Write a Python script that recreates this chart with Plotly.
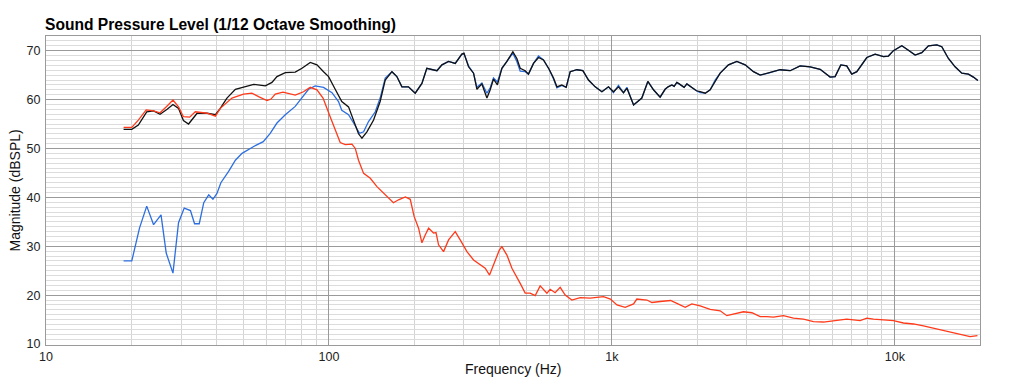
import plotly.graph_objects as go
import math

# ---- Data ----
black_freq = [18.8, 20.1, 21.2, 22.7, 24.0, 25.3, 26.8, 28.1, 29.4, 30.6, 31.9, 34.2, 37.1, 39.7, 41.3,
              43.6, 46.7, 49.9, 54.2, 59.6, 62.9, 65.5, 70.1, 76.0, 80.3, 85.9, 90.7, 95.7, 99.7, 105,
              111, 117.3, 122.2, 127.2, 130.8, 136.2, 143.8, 151.7, 158.1, 167, 173.8, 181.1, 191,
              201.8, 213.1, 221.8, 240.8, 250.8, 264.7, 279.5, 295, 300, 311.4, 324.4, 333.4, 347.2,
              361.7, 371.5, 381.6, 394, 408.6, 425.6, 446.7, 461.4, 474.2, 493.9, 507.2, 528.4, 550.4,
              573.1, 600, 621.9, 639.3, 665.3, 689.4, 712.3, 752, 789.6, 826.7, 873, 922, 972.8,
              1013, 1055, 1099, 1130, 1193, 1276, 1340, 1403, 1481, 1542, 1580, 1629, 1660, 1697,
              1730, 1768, 1800, 1841, 1880, 1942, 1990, 2051, 2138, 2225, 2317, 2414, 2582, 2765,
              2958, 3165, 3342, 3576, 3933, 4266, 4628, 5020, 5445, 5907, 6151, 6443, 6761, 7043,
              7340, 7962, 8520, 9114, 9493, 9885, 10585, 11170, 11797, 12456, 13145, 14075, 14657,
              15466, 16330, 17248, 18197, 18957, 19653]
black_db = [53.9, 53.9, 54.8, 57.5, 57.7, 57.0, 58.0, 59.0, 58.2, 55.7, 55.0, 57.2, 57.2, 56.9, 58.2,
            60.3, 62.1, 62.6, 63.1, 62.8, 63.5, 64.7, 65.5, 65.6, 66.4, 67.6, 67.1, 65.7, 64.7, 62.2,
            59.6, 58.5, 55.8, 53.0, 52.1, 53.4, 55.8, 59.6, 64.0, 65.7, 64.7, 62.6, 62.6,
            61.3, 63.3, 66.4, 65.9, 67.1, 67.8, 67.4, 69.3, 69.5, 66.7, 65.4, 62.1, 63.2,
            60.3, 62.0, 64.2, 63.0, 66.4, 67.8, 69.8, 68.4, 66.4, 65.9, 65.2, 67.4, 68.6,
            68.1, 66.2, 64.4, 62.6, 63.0, 62.5, 65.7, 66.1, 65.9, 64.0, 62.6, 61.6, 62.6,
            61.6, 62.6, 61.4, 62.3, 58.9, 60.3, 63.7, 62.0, 60.5, 62.1, 62.6, 63.0, 62.7, 63.5,
            63.2, 62.8, 62.5, 63.2, 62.8, 62.1, 61.8, 61.6, 61.3, 62.0, 63.7, 65.4, 67.1, 67.8,
            67.1, 65.7, 65.0, 65.4, 66.1, 65.9, 66.9, 66.7, 66.2, 64.6, 64.7, 67.1, 66.9, 65.2,
            65.7, 68.6, 69.3, 68.8, 68.9, 70.0, 71.0, 70.1, 69.1, 69.6, 71.0, 71.2, 70.8,
            68.4, 66.7, 65.4, 65.2, 64.6, 63.9]

blue_freq = [18.8, 20.1, 21.4, 22.7, 24.0, 25.5, 26.6, 28.1, 29.4, 30.8, 32.4, 33.5, 34.8, 36.1, 37.6,
             38.9, 40.2, 41.5, 44.2, 46.7, 49.3, 52.0, 54.2, 58.6, 62.0, 65.5, 70.1, 76.0, 80.3, 84.7,
             89.4, 95.7, 102.5, 108.1, 111, 117.3, 122.2, 128.3, 132.6, 138, 145.8, 151.7, 158.1, 167,
             173.8, 181.1, 191, 201.8, 213.1, 221.8, 240.8, 250.8, 264.7, 279.5, 295, 300, 311.4,
             324.4, 333.4, 347.2, 361.7, 371.5, 381.6, 394, 408.6, 425.6, 446.7, 461.4, 474.2, 493.9,
             507.2, 528.4, 550.4, 573.1, 600, 621.9, 639.3, 665.3, 689.4, 712.3, 752, 789.6, 826.7,
             873, 922, 972.8, 1013, 1055, 1099, 1130, 1193, 1276, 1340, 1403, 1481, 1542, 1580, 1629,
             1660, 1697, 1730, 1768, 1800, 1841, 1880, 1942, 1990, 2051, 2138, 2225, 2317, 2414, 2582,
             2765, 2958, 3165, 3342, 3576, 3933, 4266, 4628, 5020, 5445, 5907, 6151, 6443, 6761,
             7043, 7340, 7962, 8520, 9114, 9493, 9885, 10585, 11170, 11797, 12456, 13145, 14075,
             14657, 15466, 16330, 17248, 18197, 18957, 19653]
blue_db = [27.0, 27.0, 33.7, 38.2, 34.4, 36.4, 28.6, 24.5, 34.8, 37.8, 37.3, 34.6, 34.6, 38.9, 40.5,
           39.6, 40.8, 43.0, 45.3, 47.6, 49.0, 49.8, 50.4, 51.4, 53.1, 55.2, 56.9, 58.6, 60.3, 62.1,
           62.8, 62.5, 61.4, 59.6, 57.8, 56.9, 55.2, 53.1, 53.4, 55.5, 57.5, 60.3, 64.4, 65.7,
           64.7, 62.6, 62.6, 61.3, 63.3, 66.4, 65.9, 67.1, 67.8, 67.4, 69.3, 69.4, 66.9,
           65.4, 62.5, 63.4, 61.3, 62.4, 64.4, 63.6, 66.4, 67.8, 69.5, 67.8, 65.8, 65.7,
           65.2, 67.4, 68.9, 68.1, 66.2, 64.2, 62.4, 62.9, 62.5, 65.7, 66.1, 65.9, 64.0,
           62.6, 61.6, 62.6, 61.4, 62.9, 61.4, 62.5, 58.9, 60.3, 63.7, 62.0, 60.5, 62.1, 62.6, 63.0,
           62.7, 63.5, 63.2, 62.8, 62.5, 63.2, 62.8, 62.1, 61.8, 61.4, 61.3, 62.0, 64.0, 65.4, 67.1,
           67.8, 67.1, 65.7, 65.0, 65.4, 66.1, 65.9, 66.9, 66.7, 66.2, 64.6, 64.7, 67.1, 66.9,
           65.2, 65.7, 68.6, 69.3, 68.8, 68.9, 70.0, 71.0, 70.1, 69.1, 69.6, 71.0, 71.2,
           70.8, 68.4, 66.7, 65.4, 65.2, 64.6, 63.9]

red_freq = [18.8, 20.1, 21.2, 22.6, 24.0, 25.3, 26.8, 28.1, 29.4, 30.6, 32.2, 33.7, 37.1, 39.7, 41.3,
            45.4, 49.9, 53.4, 56.4, 60.4, 62.4, 64.6, 68.8, 76.0, 81.3, 85.9, 90.7, 95.3, 101, 105,
            109.6, 114.2, 120.6, 123.9, 127.2, 132.6, 140, 147.8, 153.9, 160.3, 169, 176.2, 186.2,
            193.8, 200, 207.4, 213.1, 218.9, 225, 234.2, 239, 244, 254.1, 264.7, 279.5, 291, 307.4,
            324.4, 342.4, 356.6, 369.5, 381.6, 400, 408.6, 425.6, 443.3, 461.4, 474.2, 493.9, 514.3,
            535.8, 557.9, 589.3, 605.3, 630, 656.6, 684, 722, 773, 838, 934, 988, 1042, 1114, 1193,
            1225, 1330, 1385, 1481, 1612, 1697, 1816, 1917, 2051, 2225, 2414, 2549, 2727, 2917,
            3124, 3342, 3529, 3724, 4040, 4383, 4754, 5157, 5595, 6067, 6761, 7539, 7962, 8403,
            9114, 9885, 10725, 11636, 12620, 13690, 14850, 16107, 17477, 18450, 19590]
red_db = [54.3, 54.3, 55.8, 57.9, 57.7, 57.3, 58.7, 59.9, 58.5, 56.5, 56.4, 57.5, 57.2, 56.6, 58.2,
          60.3, 61.1, 61.3, 60.6, 59.8, 60.1, 61.1, 61.5, 60.9, 61.6, 62.5, 62.0, 60.3, 56.5, 54.0,
          51.2, 50.8, 50.9, 50.0, 47.6, 44.9, 43.9, 42.2, 41.2, 40.1, 38.9, 39.5, 40.1,
          39.6, 36.1, 33.7, 30.7, 32.3, 33.7, 32.7, 32.8, 30.3, 28.9, 31.3, 33.0, 31.3, 28.9,
          27.2, 26.2, 25.5, 24.1, 26.2, 29.2, 29.9, 28.2, 25.5, 23.8, 22.4, 20.4, 20.4,
          19.9, 21.9, 20.4, 21.2, 20.5, 21.6, 20.0, 19.0, 19.5, 19.4, 19.7, 19.2, 18.0, 17.5, 18.2,
          19.2, 19.0, 18.5, 18.7, 18.9, 18.3, 17.5, 18.2, 17.8, 17.1, 16.8, 15.8, 16.2, 16.6,
          16.4, 15.6, 15.6, 15.5, 15.8, 15.3, 15.1, 14.6, 14.5, 14.8, 15.1, 14.8, 15.3, 15.1,
          14.9, 14.8, 14.3, 14.1, 13.7, 13.2, 12.7, 12.3, 11.7, 11.5, 11.7]

x_tick_vals = [10, 100, 1000, 10000]
x_tick_text = ["10", "100", "1k", "10k"]
y_tick_vals = [10, 20, 30, 40, 50, 60, 70]

FONT = "Liberation Sans, Arial, Helvetica, sans-serif"

fig = go.Figure()
fig.add_trace(go.Scatter(x=blue_freq, y=blue_db, mode="lines",
                         line=dict(color="#2c6ee0", width=1.3), showlegend=False))
fig.add_trace(go.Scatter(x=black_freq, y=black_db, mode="lines",
                         line=dict(color="#111111", width=1.3), showlegend=False))
fig.add_trace(go.Scatter(x=red_freq, y=red_db, mode="lines",
                         line=dict(color="#ff3a1a", width=1.3), showlegend=False))

fig.update_layout(
    width=1011, height=385,
    margin=dict(l=46, r=31, t=36, b=40, autoexpand=False),
    paper_bgcolor="white", plot_bgcolor="white",
    font=dict(family=FONT, size=12, color="#222"),
    title=dict(text="<b>Sound Pressure Level (1/12 Octave Smoothing)</b>",
               x=45 / 1011, xanchor="left", xref="container",
               y=1 - 25 / 385, yanchor="middle", yref="container",
               font=dict(family=FONT, size=15.6, color="#000")),
    xaxis=dict(type="log", range=[1, math.log10(20000)], automargin=False,
               tickvals=x_tick_vals, ticktext=x_tick_text,
               showgrid=True, gridcolor="#9a9a9a", gridwidth=1,
               minor=dict(dtick="D1", showgrid=True, gridcolor="#d4d4d4", gridwidth=1),
               showline=True, linecolor="#9a9a9a", linewidth=1, mirror=True,
               ticks="", tickfont=dict(size=12.5, color="#222"), zeroline=False),
    yaxis=dict(range=[9.8, 73], tickvals=y_tick_vals, automargin=False,
               showgrid=True, gridcolor="#9a9a9a", gridwidth=1,
               minor=dict(dtick=1, showgrid=True, gridcolor="#dcdcdc", gridwidth=1),
               showline=True, linecolor="#9a9a9a", linewidth=1, mirror=True,
               ticks="", ticklabelstandoff=2, tickfont=dict(size=12.5, color="#222"),
               zeroline=False),
    annotations=[
        dict(text="Magnitude (dBSPL)", textangle=-90, x=0, xref="paper", xanchor="center",
             xshift=-32, y=0.5, yref="paper", yanchor="middle", showarrow=False,
             font=dict(family=FONT, size=14, color="#111")),
        dict(text="Frequency (Hz)", x=0.5, xref="paper", xanchor="center",
             y=0, yref="paper", yanchor="middle", yshift=-24, showarrow=False,
             font=dict(family=FONT, size=14, color="#111")),
    ],
)

fig.write_html("out.html", config={"displayModeBar": False},
               post_script="document.body.style.margin='0';document.body.style.overflow='hidden';")
